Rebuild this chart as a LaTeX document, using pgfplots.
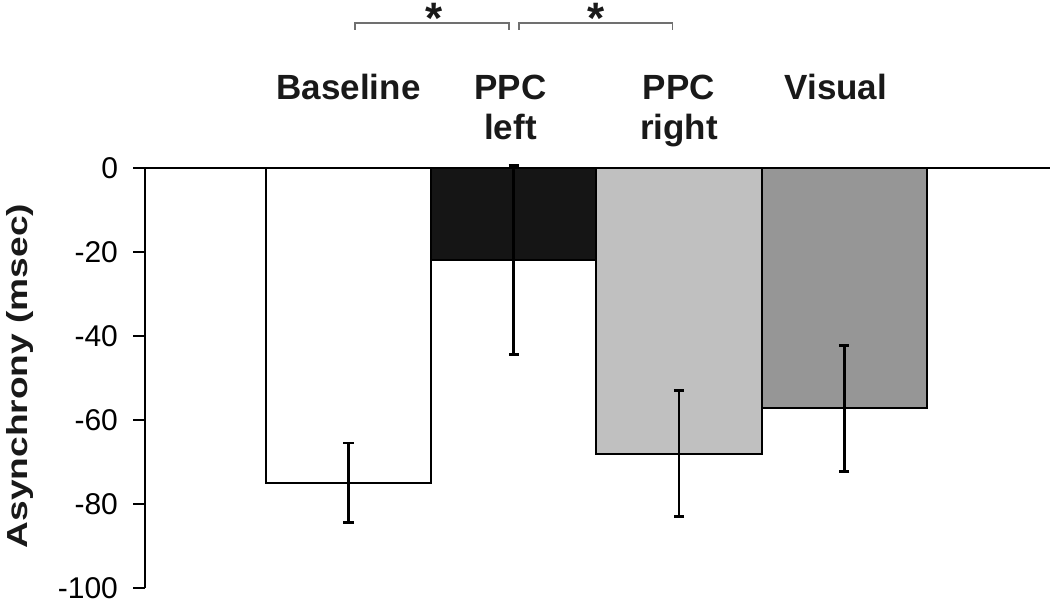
\documentclass[border=0pt]{standalone}
\usepackage{fontspec}
\setmainfont{Liberation Sans}
\usepackage{pgfplots}
\pgfplotsset{compat=1.18}
\definecolor{barblack}{HTML}{151515}
\definecolor{barlight}{HTML}{C0C0C0}
\definecolor{bardark}{HTML}{969696}
\definecolor{brk}{HTML}{707070}
\begin{document}
\begin{tikzpicture}
\useasboundingbox (0,0) rectangle (525pt,301.5pt);
\begin{axis}[
  at={(72.5pt,7.5pt)}, anchor=south west,
  scale only axis, width=452.5pt, height=210pt,
  xmin=-1.232, xmax=4.246, ymin=-100, ymax=0,
  axis x line=top, axis y line=left,
  axis line style={-, line width=1.4pt, black},
  xtick=\empty,
  ytick={0,-20,-40,-60,-80,-100},
  tick align=outside, major tick length=6pt,
  ytick style={line width=1.4pt, black},
  /pgf/number format/assume math mode=true,
  yticklabel style={font=\fontsize{15}{18}\selectfont, xshift=-4pt},
  ybar, bar width=1, bar shift=0pt,
  clip=false, axis on top=false,
  every axis plot/.append style={draw=black, line width=1pt},
  error bars/error bar style={line width=1.4pt, black},
  error bars/error mark options={line width=1.4pt, black, mark size=2.6pt, rotate=90},
]
\addplot[fill=white, error bars/.cd, y dir=both, y explicit]
  coordinates {(0,-75) +- (0,9.5)};
\addplot[fill=barblack, error bars/.cd, y dir=both, y explicit]
  coordinates {(1,-22) +- (0,22.5)};
\addplot[fill=barlight, error bars/.cd, y dir=both, y explicit]
  coordinates {(2,-68) +- (0,15)};
\addplot[fill=bardark, error bars/.cd, y dir=both, y explicit]
  coordinates {(3,-57.2) +- (0,15)};
% category labels
\begin{scope}[every node/.style={font=\fontsize{17.5}{20}\selectfont\bfseries, text=black!90, anchor=base, inner sep=0pt}]
\node at (axis cs:0,0) [yshift=34pt] {Baseline};
\node at (axis cs:0.98,0) [yshift=34pt] {PPC};
\node at (axis cs:0.98,0) [yshift=14pt] {left};
\node at (axis cs:2,0) [yshift=34pt] {PPC};
\node at (axis cs:2,0) [yshift=14pt] {right};
\node at (axis cs:2.95,0) [yshift=34pt] {Visual};
\end{scope}
% significance brackets
\draw[brk, line width=0.8pt] ([yshift=69pt]axis cs:0.04,0) -- ([yshift=72.5pt]axis cs:0.04,0) -- ([yshift=72.5pt]axis cs:0.97,0) -- ([yshift=69pt]axis cs:0.97,0);
\draw[brk, line width=0.8pt] ([yshift=69pt]axis cs:1.03,0) -- ([yshift=72.5pt]axis cs:1.03,0) -- ([yshift=72.5pt]axis cs:1.96,0) -- ([yshift=69pt]axis cs:1.96,0);
\node[font=\fontsize{22}{24}\selectfont\bfseries, text=black!90, inner sep=0pt, anchor=north] at ([yshift=82.5pt]axis cs:0.52,0) {*};
\node[font=\fontsize{22}{24}\selectfont\bfseries, text=black!90, inner sep=0pt, anchor=north] at ([yshift=82.5pt]axis cs:1.5,0) {*};
\end{axis}
\node[rotate=90, font=\fontsize{14.5}{17}\selectfont\bfseries, text=black!90, inner sep=0pt] at (10pt,113.5pt) {\scalebox{1.28}[1]{Asynchrony (msec)}};
\end{tikzpicture}
\end{document}
